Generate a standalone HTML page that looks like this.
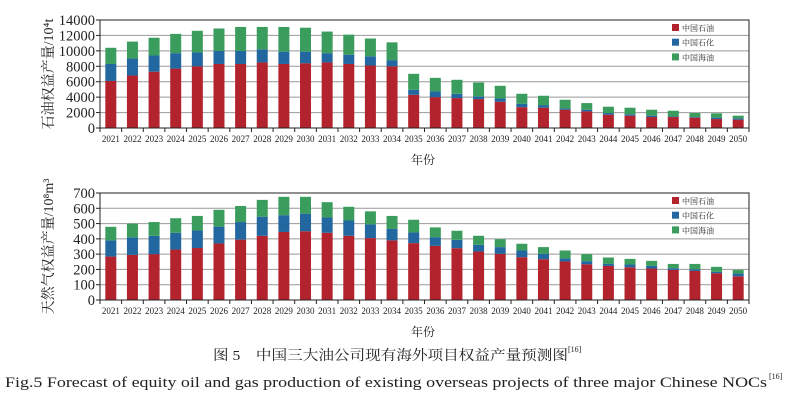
<!DOCTYPE html>
<html><head><meta charset="utf-8"><style>
body{margin:0;background:#fff}
svg{display:block}
text{font-family:"Liberation Serif","Noto Serif CJK SC",serif;fill:#222}
</style></head><body>
<svg id="s" width="796" height="404" xmlns="http://www.w3.org/2000/svg">
<text x="213" y="360" font-size="14" textLength="355" lengthAdjust="spacingAndGlyphs" font-family="Noto Sans CJK SC,sans-serif">图 5　中国三大油公司现有海外项目权益产量预测图</text>
<text x="568" y="352" font-size="8">[16]</text>
<text x="5" y="387" font-size="15" textLength="762" lengthAdjust="spacingAndGlyphs">Fig.5 Forecast of equity oil and gas production of existing overseas projects of three major Chinese NOCs</text>
<text x="769" y="379" font-size="8">[16]</text>
</svg>
<script>
const s=document.getElementById('s');
const NS='http://www.w3.org/2000/svg';
function el(t,a,txt){const e=document.createElementNS(NS,t);for(const k in a)e.setAttribute(k,a[k]);if(txt!==undefined)e.textContent=txt;s.appendChild(e);return e;}
const oil=[[6100,8300,10400],[6800,9000,11200],[7300,9400,11700],[7700,9700,12200],[8000,9800,12600],[8300,10000,12900],[8300,10000,13100],[8500,10200,13100],[8300,9900,13100],[8400,9900,13000],[8500,9700,12500],[8300,9500,12100],[8100,9300,11600],[8000,8800,11100],[4300,4950,7020],[4000,4740,6500],[3880,4440,6250],[3750,4100,5900],[3400,3830,5470],[2700,3150,4440],[2630,2970,4180],[2370,2540,3660],[2150,2370,3230],[1720,1940,2760],[1600,1770,2630],[1420,1600,2370],[1420,1510,2240],[1340,1420,1940],[1160,1340,1900],[1080,1250,1600]];
const gas=[[284,390,479],[295,410,500],[300,420,510],[330,440,535],[340,455,550],[370,480,590],[395,510,615],[420,545,655],[445,555,675],[450,565,675],[440,540,640],[420,520,610],[405,495,580],[390,465,550],[372,442,525],[354,411,475],[339,394,453],[317,361,420],[302,346,398],[280,324,368],[267,302,346],[252,273,324],[234,254,300],[223,236,278],[214,232,269],[206,223,256],[197,208,236],[190,201,236],[175,184,217],[155,173,197]];
const C=['#b3232e','#22679f','#3a9d5d'];
function chart(d,top,bot,max,step,ylab,ylabX){
 const L=100,R=749,h=bot-top,n=30,cw=(R-L)/n;
 for(let v=0;v<=max;v+=step){const y=bot-v/max*h;
  if(v>0)el('line',{x1:L,x2:R,y1:y,y2:y,stroke:'#999','stroke-width':1});
  el('line',{x1:L-4,x2:L,y1:y,y2:y,stroke:'#222'});
  el('text',{x:L-5,y:y+5,'font-size':14.5,'text-anchor':'end'},v);}
 d.forEach((r,i)=>{const x=L+i*cw+cw/2-5.5;let prev=0;
  r.forEach((v,j)=>{const y1=bot-v/max*h,y0=bot-prev/max*h;el('rect',{x:x,y:y1,width:11,height:y0-y1,fill:C[j]});prev=v;});
  el('text',{x:L+i*cw+cw/2,y:bot+14,'font-size':9,'text-anchor':'middle'},2021+i);
 });
 el('rect',{x:L,y:top,width:R-L,height:h,fill:'none',stroke:'#222','stroke-width':1});
 for(let i=0;i<=n;i++){const x=L+i*cw;el('line',{x1:x,x2:x,y1:bot,y2:bot+4,stroke:'#222'});}
 el('text',{x:423,y:bot+36,'font-size':12,'text-anchor':'middle','font-family':'Noto Sans CJK SC,sans-serif'},'年份');
 el('text',{x:0,y:0,'font-size':14,'text-anchor':'middle',transform:`translate(${ylabX},${(top+bot)/2}) rotate(-90)`},ylab);
 const names=['中国石油','中国石化','中国海油'];
 names.forEach((nm,k)=>{const y=top+9+k*14.7;el('rect',{x:672,y:y-5,width:7,height:7,fill:C[k]});
  el('text',{x:682,y:y+2,'font-size':8,'font-family':'Noto Sans CJK SC,sans-serif'},nm);});
}
chart(oil,20,128,14000,2000,'石油权益产量/10⁴t',53);
chart(gas,193,300,700,100,'天然气权益产量/10⁸m³',53);
</script>
</body></html>
